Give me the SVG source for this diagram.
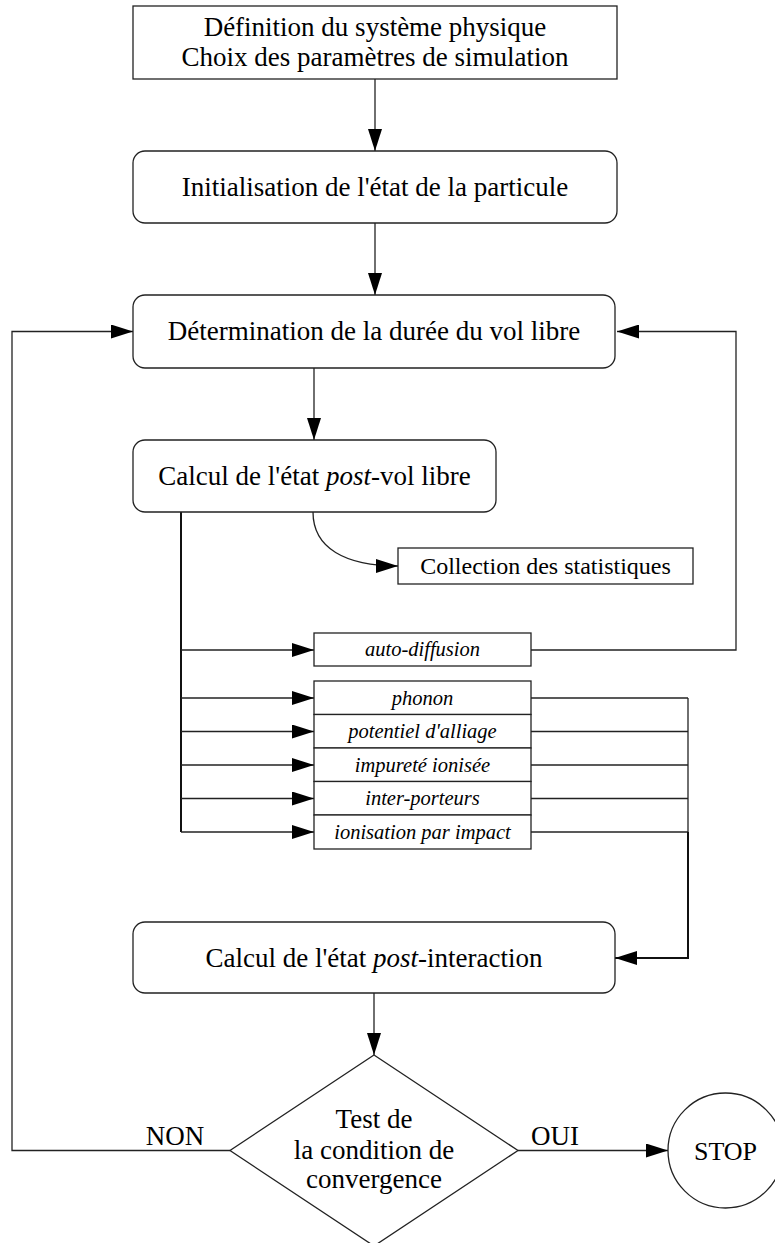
<svg xmlns="http://www.w3.org/2000/svg" width="775" height="1243" viewBox="0 0 775 1243">
<style>
.box{fill:#fff;stroke:#222;stroke-width:1.3}
.ln{fill:none;stroke:#222;stroke-width:1.3}
.thk{fill:none;stroke:#111;stroke-width:2}
.t{font-family:"Liberation Serif","Times New Roman",serif;font-size:27px;fill:#000;text-anchor:middle}
.s{font-family:"Liberation Serif","Times New Roman",serif;font-size:24px;fill:#000;text-anchor:middle}
.i{font-family:"Liberation Serif","Times New Roman",serif;font-size:20.5px;font-style:italic;fill:#000;text-anchor:middle}
</style>
<defs>
<marker id="ah" markerUnits="userSpaceOnUse" markerWidth="22" markerHeight="14" viewBox="0 0 22 14" refX="22" refY="7" orient="auto">
<path d="M0,0 L22,7 L0,14 z" fill="#000"/>
</marker>
</defs>
<g id="connectors">
<line class="ln" x1="375" y1="79" x2="375" y2="151" marker-end="url(#ah)"/>
<line class="ln" x1="375" y1="223" x2="375" y2="295" marker-end="url(#ah)"/>
<line class="ln" x1="314" y1="368" x2="314" y2="440" marker-end="url(#ah)"/>
<path class="ln" d="M313,512 C313,548 345,566 398,566" marker-end="url(#ah)"/>
<line class="thk" x1="181" y1="512" x2="181" y2="832"/>
<line class="ln" x1="181" y1="650" x2="314" y2="650" marker-end="url(#ah)"/>
<line class="ln" x1="181" y1="698" x2="314" y2="698" marker-end="url(#ah)"/>
<line class="ln" x1="181" y1="731.5" x2="314" y2="731.5" marker-end="url(#ah)"/>
<line class="ln" x1="181" y1="765" x2="314" y2="765" marker-end="url(#ah)"/>
<line class="ln" x1="181" y1="798.5" x2="314" y2="798.5" marker-end="url(#ah)"/>
<line class="ln" x1="181" y1="832" x2="314" y2="832" marker-end="url(#ah)"/>
<path class="ln" d="M531,650 H736 V331.5 H617" marker-end="url(#ah)"/>
<line class="ln" x1="531" y1="698" x2="688" y2="698"/>
<line class="ln" x1="531" y1="731.5" x2="688" y2="731.5"/>
<line class="ln" x1="531" y1="765" x2="688" y2="765"/>
<line class="ln" x1="531" y1="798.5" x2="688" y2="798.5"/>
<line class="ln" x1="531" y1="832" x2="688" y2="832"/>
<line class="ln" x1="688" y1="698" x2="688" y2="832"/>
<path class="thk" d="M688,832 V958 H615" marker-end="url(#ah)"/>
<line class="ln" x1="374" y1="993" x2="374" y2="1055" marker-end="url(#ah)"/>
<path class="ln" d="M230,1150.5 H12 V331.5 H133" marker-end="url(#ah)"/>
<line class="ln" x1="518" y1="1150.5" x2="668" y2="1150.5" marker-end="url(#ah)"/>
<text class="t" x="175" y="1145">NON</text>
<text class="t" x="555" y="1145">OUI</text>
</g>
<g id="n1">
<rect class="box" x="133" y="6" width="484" height="73"/>
<text class="t" x="375" y="36">Définition du système physique</text>
<text class="t" x="375" y="66">Choix des paramètres de simulation</text>
</g>
<g id="n2">
<rect class="box" x="133" y="151" width="484" height="72" rx="12"/>
<text class="t" x="375" y="196">Initialisation de l'état de la particule</text>
</g>
<g id="n3">
<rect class="box" x="133" y="295" width="482" height="73" rx="12"/>
<text class="t" x="374" y="340">Détermination de la durée du vol libre</text>
</g>
<g id="n4">
<rect class="box" x="133" y="440" width="363" height="72" rx="12"/>
<text class="t" x="314.5" y="485">Calcul de l'état <tspan font-style="italic">post</tspan>-vol libre</text>
</g>
<g id="n5">
<rect class="box" x="398" y="548" width="295" height="36"/>
<text class="s" x="545.5" y="574">Collection des statistiques</text>
</g>
<g id="n6">
<rect class="box" x="314" y="633" width="217" height="33"/>
<text class="i" x="422.5" y="656">auto-diffusion</text>
</g>
<g id="n7">
<rect class="box" x="314" y="681" width="217" height="33.5"/>
<text class="i" x="422.5" y="704.5">phonon</text>
</g>
<g id="n8">
<rect class="box" x="314" y="714.5" width="217" height="33.5"/>
<text class="i" x="422.5" y="738">potentiel d'alliage</text>
</g>
<g id="n9">
<rect class="box" x="314" y="748" width="217" height="33.5"/>
<text class="i" x="422.5" y="771.5">impureté ionisée</text>
</g>
<g id="n10">
<rect class="box" x="314" y="781.5" width="217" height="33.5"/>
<text class="i" x="422.5" y="805">inter-porteurs</text>
</g>
<g id="n11">
<rect class="box" x="314" y="815" width="217" height="34"/>
<text class="i" x="422.5" y="838.5">ionisation par impact</text>
</g>
<g id="n12">
<rect class="box" x="133" y="922" width="482" height="71" rx="12"/>
<text class="t" x="374" y="967">Calcul de l'état <tspan font-style="italic">post</tspan>-interaction</text>
</g>
<g id="n13">
<polygon class="box" points="374,1055 518,1150.5 374,1246 230,1150.5"/>
<text class="t" x="374" y="1128">Test de</text>
<text class="t" x="374" y="1159">la condition de</text>
<text class="t" x="374" y="1188">convergence</text>
</g>
<g id="n14">
<circle class="box" cx="725.5" cy="1150.5" r="57.5"/>
<text class="t" x="725.5" y="1160" style="font-size:26px">STOP</text>
</g>
</svg>
